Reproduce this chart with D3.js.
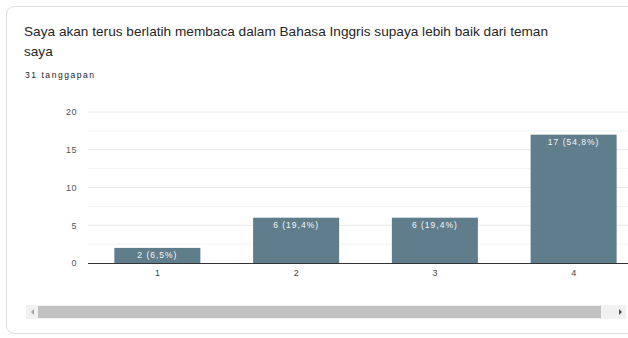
<!DOCTYPE html>
<html>
<head>
<meta charset="utf-8">
<script src="https://cdn.jsdelivr.net/npm/d3@7"></script>
<style>
  html, body { margin: 0; padding: 0; background: #fff; }
  svg { display: block; font-family: "Liberation Sans", Arial, sans-serif; }
</style>
</head>
<body>
<svg id="chart" width="628" height="338"></svg>
<script>
// Survey responses: "Saya akan terus berlatih membaca ..."
const categories = ["1", "2", "3", "4"];
const counts = [2, 6, 6, 17];
const percents = ["6,5%", "19,4%", "19,4%", "54,8%"];
const yTicks = [0, 5, 10, 15, 20];
const titleLines = [
  "Saya akan terus berlatih membaca dalam Bahasa Inggris supaya lebih baik dari teman",
  "saya"
];
const responsesLabel = "31 tanggapan";

const svg = d3.select("#chart");

// Card background
svg.append("rect")
  .attr("x", 6.5).attr("y", 6.5)
  .attr("width", 640).attr("height", 327)
  .attr("rx", 8)
  .attr("fill", "#fff")
  .attr("stroke", "#dadce0");

// Title and response count
svg.selectAll("text.title")
  .data(titleLines)
  .join("text")
  .attr("class", "title")
  .attr("x", 24)
  .attr("y", (d, i) => 36 + i * 20)
  .attr("font-size", 13.6)
  .attr("fill", "#262626")
  .each(function (d, i) {
    if (i === 0) d3.select(this).attr("textLength", 524).attr("lengthAdjust", "spacing");
  })
  .text(d => d);

svg.append("text")
  .attr("x", 25).attr("y", 78)
  .attr("font-size", 8.5)
  .attr("fill", "#202124")
  .attr("textLength", 69)
  .attr("lengthAdjust", "spacing")
  .text(responsesLabel);

// Scales
const x = d3.scaleBand()
  .domain(categories)
  .range([88, 643])
  .paddingInner(0.38)
  .paddingOuter(0.19);

const y = d3.scaleLinear()
  .domain([0, 20])
  .range([263, 112]);

const plot = svg.append("g");

// Minor and major gridlines
const minor = d3.range(2.5, 20, 5);
plot.selectAll("line.minor")
  .data(minor)
  .join("line")
  .attr("x1", 88).attr("x2", 628)
  .attr("y1", d => y(d)).attr("y2", d => y(d))
  .attr("stroke", "#f3f3f3");

plot.selectAll("line.major")
  .data(yTicks.filter(d => d > 0))
  .join("line")
  .attr("x1", 88).attr("x2", 628)
  .attr("y1", d => y(d)).attr("y2", d => y(d))
  .attr("stroke", "#e8e8e8");

// Y axis labels
const yAxis = d3.axisLeft(y).tickValues(yTicks).tickSize(0).tickPadding(0);
const yg = svg.append("g").attr("transform", "translate(77,0)").call(yAxis);
yg.select(".domain").remove();
yg.selectAll("text")
  .attr("font-size", 9)
  .attr("fill", "#555")
  .attr("letter-spacing", 0.5)
  .attr("font-family", "'Liberation Sans', Arial, sans-serif");

// Bars
const bars = categories.map((c, i) => ({ c, v: counts[i], p: percents[i] }));
plot.selectAll("rect.bar")
  .data(bars)
  .join("rect")
  .attr("class", "bar")
  .attr("x", d => x(d.c))
  .attr("y", d => y(d.v))
  .attr("width", x.bandwidth())
  .attr("height", d => y(0) - y(d.v))
  .attr("fill", "#5f7d8b");

plot.selectAll("text.val")
  .data(bars)
  .join("text")
  .attr("class", "val")
  .attr("x", d => x(d.c) + x.bandwidth() / 2)
  .attr("y", d => y(d.v) + 10.5)
  .attr("text-anchor", "middle")
  .attr("font-size", 8.5)
  .attr("letter-spacing", 1)
  .attr("fill", "#f4f6f7")
  .text(d => `${d.v} (${d.p})`);

// Baseline
svg.append("line")
  .attr("x1", 88).attr("x2", 628)
  .attr("y1", y(0) + 0.5).attr("y2", y(0) + 0.5)
  .attr("stroke", "#333").attr("stroke-width", 1.2);

// X axis labels
const xAxis = d3.axisBottom(x).tickSize(0).tickPadding(0);
const xg = svg.append("g").attr("transform", `translate(0,${y(0) + 7})`).call(xAxis);
xg.select(".domain").remove();
xg.selectAll("text")
  .attr("font-size", 9)
  .attr("fill", "#444")
  .attr("font-family", "'Liberation Sans', Arial, sans-serif");

// Horizontal scrollbar
const sb = svg.append("g");
sb.append("rect").attr("x", 26).attr("y", 305).attr("width", 600).attr("height", 14).attr("fill", "#f1f1f1");
sb.append("rect").attr("x", 38).attr("y", 306).attr("width", 563).attr("height", 12).attr("fill", "#c1c1c1");
sb.append("path").attr("d", "M34,309 L31,312 L34,315 Z").attr("fill", "#a3a3a3");
sb.append("path").attr("d", "M619,309 L622,312 L619,315 Z").attr("fill", "#505050");
</script>
</body>
</html>
